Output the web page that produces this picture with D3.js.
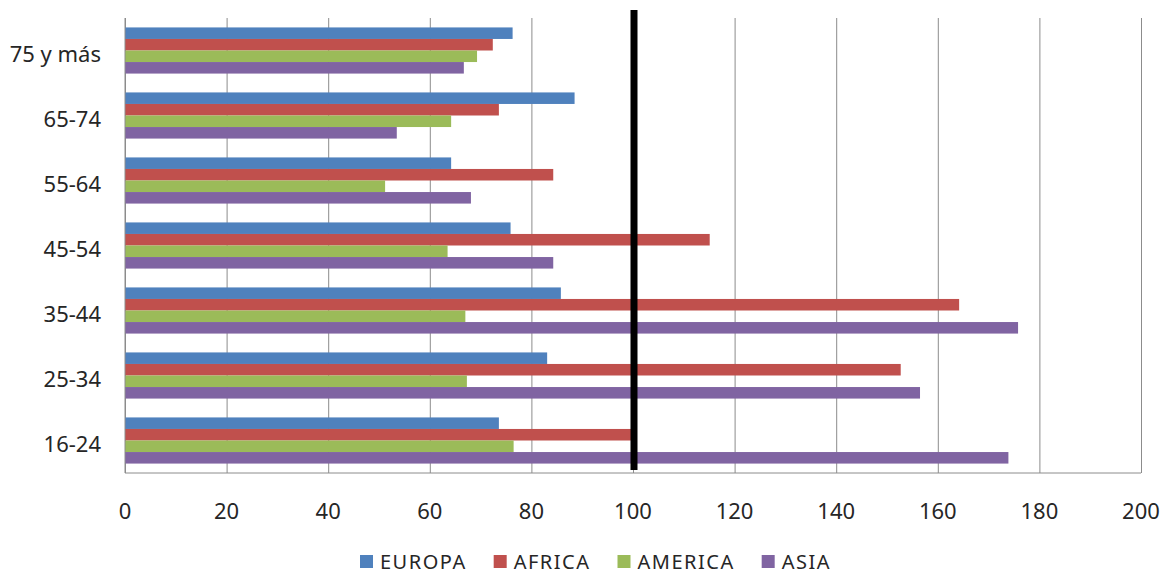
<!DOCTYPE html>
<html>
<head>
<meta charset="utf-8">
<script src="https://cdn.jsdelivr.net/npm/d3@7"></script>
<style>
    body { margin: 0; background: #fff; }
    text { font-family: "Noto Sans", sans-serif; fill: #262626; }
    .grid line { stroke: #8c8c8c; stroke-width: 1; }
    .grid path { display: none; }
</style>
</head>
<body>
<div id="chart"></div>
<script>
// data
var categories = ["75 y más", "65-74", "55-64", "45-54", "35-44", "25-34", "16-24"];
var seriesNames = ["EUROPA", "AFRICA", "AMERICA", "ASIA"];
var europa = [76.3, 88.5, 64.2, 75.9, 85.8, 83.1, 73.6];
var africa = [72.4, 73.6, 84.3, 115.1, 164.2, 152.7, 99.6];
var america = [69.3, 64.2, 51.2, 63.5, 67.0, 67.3, 76.5];
var asia = [66.7, 53.5, 68.1, 84.3, 175.8, 156.5, 173.9];
var xTicks = [0, 20, 40, 60, 80, 100, 120, 140, 160, 180, 200];
var refValue = 100;

var colours = ["#4f81bd", "#c0504d", "#9bbb59", "#8064a2"];
var values = [europa, africa, america, asia];

var width = 1169;
var height = 576;
var margin = {top: 18, bottom: 103, left: 125, right: 28};
var plotW = width - margin.left - margin.right;
var plotH = height - margin.top - margin.bottom;

var svg = d3.select('#chart')
    .append('svg')
    .attr('width', width)
    .attr('height', height);

var g = svg.append('g')
    .attr('transform', 'translate(' + margin.left + ',' + margin.top + ')');

var x = d3.scaleLinear()
    .domain([0, 200])
    .range([0, plotW]);

var y = d3.scaleBand()
    .domain(categories)
    .range([0, plotH])
    .paddingInner(0.29)
    .paddingOuter(0.145);

var ySub = d3.scaleBand()
    .domain(seriesNames)
    .range([0, y.bandwidth()]);

// vertical gridlines
g.append('g')
    .attr('class', 'grid')
    .attr('transform', 'translate(0,' + plotH + ')')
    .call(d3.axisBottom(x).tickValues(xTicks).tickSize(-plotH).tickFormat(''));

// bars
var rows = [];
categories.forEach(function(c, i) {
    seriesNames.forEach(function(s, j) {
        rows.push({cat: c, series: s, value: values[j][i], colour: colours[j]});
    });
});

g.selectAll('.bar')
    .data(rows)
    .enter()
    .append('rect')
    .attr('class', 'bar')
    .attr('x', 0)
    .attr('y', function(d) { return y(d.cat) + ySub(d.series); })
    .attr('width', function(d) { return x(d.value); })
    .attr('height', ySub.bandwidth())
    .attr('fill', function(d) { return d.colour; });

// axis lines
g.append('line')
    .attr('x1', 0).attr('x2', 0)
    .attr('y1', 0).attr('y2', plotH)
    .attr('stroke', '#8c8c8c');

g.append('line')
    .attr('x1', 0).attr('x2', plotW)
    .attr('y1', plotH).attr('y2', plotH)
    .attr('stroke', '#8c8c8c');

// thick reference line at 100
g.append('line')
    .attr('x1', x(refValue) + 1).attr('x2', x(refValue) + 1)
    .attr('y1', -8).attr('y2', plotH - 3)
    .attr('stroke', '#000')
    .attr('stroke-width', 7);

// x tick labels
g.selectAll('.xlabel')
    .data(xTicks)
    .enter()
    .append('text')
    .attr('class', 'xlabel')
    .attr('x', function(d) { return x(d); })
    .attr('y', plotH + 46)
    .attr('text-anchor', 'middle')
    .style('font-size', '22px')
    .text(function(d) { return d; });

// category labels
g.selectAll('.ylabel')
    .data(categories)
    .enter()
    .append('text')
    .attr('class', 'ylabel')
    .attr('x', -24)
    .attr('y', function(d) { return y(d) + y.bandwidth() / 2 + 11; })
    .attr('text-anchor', 'end')
    .style('font-size', '22px')
    .text(function(d) { return d; });

// legend
var lx = 360;
seriesNames.forEach(function(s, i) {
    svg.append('rect')
        .attr('x', lx)
        .attr('y', 555)
        .attr('width', 13)
        .attr('height', 13)
        .attr('fill', colours[i]);
    var t = svg.append('text')
        .attr('x', lx + 20)
        .attr('y', 569)
        .style('font-size', '20px')
        .style('letter-spacing', '1.5px')
        .text(s);
    lx = lx + 20 + t.node().getComputedTextLength() + 27;
});
</script>
</body>
</html>
